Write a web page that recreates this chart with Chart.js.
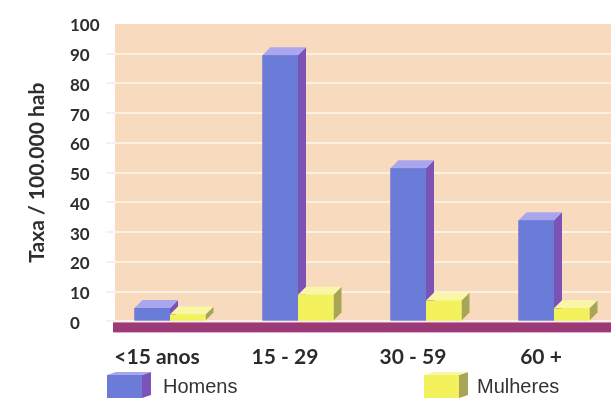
<!DOCTYPE html>
<html>
<head>
<meta charset="utf-8">
<script src="https://cdn.jsdelivr.net/npm/chart.js@4/dist/chart.umd.min.js"></script>
<style>
  html, body { margin: 0; padding: 0; background: #ffffff; overflow: hidden; width: 611px; height: 398px; }
  canvas { display: block; }
</style>
</head>
<body>
<canvas id="chart" width="618" height="398"></canvas>
<script>
// Age groups and rates per 100.000 inhabitants
const categories = ['<15 anos', '15 - 29', '30 - 59', '60 +'];
const seriesNames = ['Homens', 'Mulheres'];
const homens = [4.5, 89.5, 51.5, 34];
const mulheres = [2.3, 9, 7, 4.4];
const yTickValues = [0, 10, 20, 30, 40, 50, 60, 70, 80, 90, 100];

// Colours of the three visible faces of each 3D bar
const faceColors = [
  { front: '#6b7bd8', side: '#7b53b7', top: '#aaa6ee' },
  { front: '#f4f25c', side: '#a9a558', top: '#f9f7a6' }
];
const DEPTH = 8;

function drawBox(ctx, l, r, t, b, dx, dy, c) {
  // side face
  ctx.fillStyle = c.side;
  ctx.beginPath();
  ctx.moveTo(r, t);
  ctx.lineTo(r + dx, t - dy);
  ctx.lineTo(r + dx, b - dy);
  ctx.lineTo(r, b);
  ctx.closePath();
  ctx.fill();
  // top face
  ctx.fillStyle = c.top;
  ctx.beginPath();
  ctx.moveTo(l, t);
  ctx.lineTo(l + dx, t - dy);
  ctx.lineTo(r + dx, t - dy);
  ctx.lineTo(r, t);
  ctx.closePath();
  ctx.fill();
  // front face
  ctx.fillStyle = c.front;
  ctx.fillRect(l, t, r - l, b - t);
}

// Back wall and floor of the 3D box
const wallPlugin = {
  id: 'wall',
  beforeDraw(chart) {
    const { ctx, chartArea } = chart;
    ctx.save();
    ctx.fillStyle = '#f8dabf';
    ctx.fillRect(chartArea.left + 9, chartArea.top, chartArea.right - chartArea.left - 9, chartArea.bottom - chartArea.top);
    ctx.restore();
  },
  beforeDatasetsDraw(chart) {
    const { ctx, chartArea } = chart;
    const y0 = chart.scales.y.getPixelForValue(0);
    ctx.save();
    ctx.fillStyle = '#9c3a78';
    ctx.fillRect(chartArea.left + 7, y0 + 1, chartArea.right - chartArea.left, 10);
    ctx.restore();
  }
};

// Extrudes every bar into a box, series by series so later bars sit in front
const bars3dPlugin = {
  id: 'bars3d',
  afterDatasetsDraw(chart) {
    const ctx = chart.ctx;
    ctx.save();
    chart.data.datasets.forEach((ds, i) => {
      const meta = chart.getDatasetMeta(i);
      meta.data.forEach(bar => {
        const p = bar.getProps(['x', 'y', 'base', 'width'], true);
        const l = p.x - p.width / 2, r = p.x + p.width / 2;
        drawBox(ctx, l, r, p.y, p.base, DEPTH, DEPTH, faceColors[i]);
      });
    });
    ctx.restore();
  }
};

// Legend with small 3D swatches
const legend3dPlugin = {
  id: 'legend3d',
  afterDraw(chart, args, opts) {
    const ctx = chart.ctx;
    ctx.save();
    chart.data.datasets.forEach((ds, i) => {
      const bx = opts.boxX[i];
      drawBox(ctx, bx, bx + 35, opts.boxTop, opts.boxTop + 23, 9, 3, faceColors[i]);
      ctx.fillStyle = '#333333';
      ctx.font = '20px "Liberation Sans", Arial, sans-serif';
      ctx.textBaseline = 'middle';
      ctx.textAlign = 'left';
      ctx.fillText(ds.label, opts.textX[i], opts.textY);
    });
    ctx.restore();
  }
};

new Chart(document.getElementById('chart'), {
  type: 'bar',
  data: {
    labels: categories,
    datasets: [
      { label: seriesNames[0], data: homens, backgroundColor: faceColors[0].front },
      { label: seriesNames[1], data: mulheres, backgroundColor: faceColors[1].front }
    ]
  },
  options: {
    responsive: false,
    animation: false,
    devicePixelRatio: 1,
    barPercentage: 1,
    categoryPercentage: 0.555,
    layout: { padding: { top: 24, left: 70, right: 0, bottom: 0 } },
    plugins: {
      legend: { display: false },
      tooltip: { enabled: false },
      legend3d: { boxX: [107, 424], textX: [163, 477], boxTop: 375, textY: 387 }
    },
    scales: {
      x: {
        grid: { display: false, drawTicks: false },
        border: { display: false },
        ticks: {
          color: '#2b2b2b',
          font: { family: 'Lato', weight: 'bold', size: 21 },
          padding: 23,
          labelOffset: -13,
          maxRotation: 0
        },
        afterFit(scale) { scale.height = 76.6; }
      },
      y: {
        min: 0,
        max: 100,
        afterBuildTicks(scale) { scale.ticks = yTickValues.map(v => ({ value: v })); },
        grid: {
          color: c => (c.tick && c.tick.value === 100) ? 'rgba(0,0,0,0)' : '#fcefe4',
          lineWidth: 2,
          drawTicks: false
        },
        border: { display: false },
        ticks: {
          color: '#2e2e2e',
          font: { family: 'Lato', weight: 'bold', size: 17 },
          padding: 6,
          crossAlign: 'far',
          labelOffset: 2
        },
        title: {
          display: true,
          text: 'Taxa / 100.000 hab',
          color: '#2e2e2e',
          font: { family: 'Lato', weight: 'bold', size: 21 },
          padding: { top: -45.6, bottom: 0 }
        },
        afterFit(scale) { scale.width = 36; }
      }
    }
  },
  plugins: [wallPlugin, bars3dPlugin, legend3dPlugin]
});
</script>
</body>
</html>
